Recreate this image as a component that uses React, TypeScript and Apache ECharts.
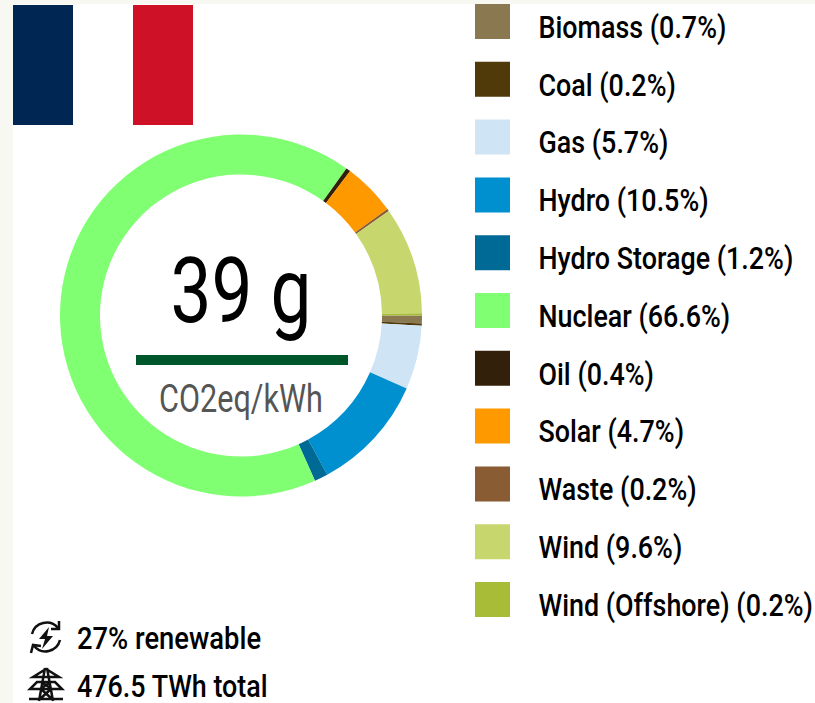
import React, { useEffect, useRef } from "react";
import * as echarts from "echarts";

const categories = ["Biomass", "Coal", "Gas", "Hydro", "Hydro Storage", "Nuclear", "Oil", "Solar", "Waste", "Wind", "Wind (Offshore)"];
const shares = [0.7, 0.2, 5.7, 10.5, 1.2, 66.6, 0.4, 4.7, 0.2, 9.6, 0.2];
const colors = ["#8a7850", "#503a0a", "#cfe4f4", "#0090d0", "#006a96", "#80ff73", "#33200a", "#ff9900", "#8a5c33", "#c8d66e", "#a8bc38"];
const intensity = "39 g";
const intensityUnit = "CO2eq/kWh";
const renewableText = "27% renewable";
const totalText = "476.5 TWh total";
const FONT = "Roboto, 'Noto Sans', sans-serif";
const NARROW = 0.84;

const ARROWS = "M32 634 A15 15 0 0 1 58 628 M60 640 A15 15 0 0 1 34 646 M59 621 L59 629 L51 629 M31 653 L33 645 L41 646";
const BOLT = "M49 627 L39 639 L45 639 L42 649 L53 636 L47 636 Z";
const PYLON = "M45 668 L39 701 M47 668 L53 701 M33 677 L46 669 L59 677 Z M30 689 L62 689 L55 682 L37 682 Z M29 699 L63 699 M41 682 L52 689 M51 682 L40 689 M41 689 L52 699 M51 689 L40 699";

echarts.graphic.registerShape("arrows", echarts.graphic.extendPath(ARROWS, {}) as any);
echarts.graphic.registerShape("bolt", echarts.graphic.extendPath(BOLT, {}) as any);
echarts.graphic.registerShape("pylon", echarts.graphic.extendPath(PYLON, {}) as any);

const scaled = (text: string, x: number, y: number, fontSize: number, fill: string, align: string, scaleX = NARROW, fontWeight = 500) => ({
  type: "text", silent: true, x, y, scaleX,
  style: { text, fontFamily: FONT, fontWeight, fontSize, fill, align, verticalAlign: "middle" },
});

export default function App() {
  const ref = useRef<HTMLDivElement>(null);
  useEffect(() => {
    document.body.style.margin = "0";
    const chart = echarts.init(ref.current!, null, { renderer: "svg" });
    chart.setOption({
      animation: false,
      backgroundColor: "#ffffff",
      legend: {
        orient: "vertical",
        left: 475,
        top: 4,
        itemWidth: 35,
        itemHeight: 35,
        itemGap: 22.8,
        icon: "rect",
        selectedMode: false,
        padding: 0,
        data: categories,
        formatter: () => " ",
        textStyle: { fontSize: 12, lineHeight: 35 },
      },
      series: [
        {
          type: "pie",
          center: [241, 315.5],
          radius: [141, 181],
          startAngle: 0,
          clockwise: true,
          silent: true,
          label: { show: false },
          labelLine: { show: false },
          emphasis: { disabled: true },
          data: categories.map((name, i) => ({ name, value: shares[i], itemStyle: { color: colors[i] } })),
        },
      ],
      graphic: [
        { type: "rect", silent: true, z: -10, shape: { x: 0, y: 0, width: 13, height: 703 }, style: { fill: "#f7f8f2" } },
        { type: "rect", silent: true, z: -10, shape: { x: 0, y: 0, width: 815, height: 4 }, style: { fill: "#f7f8f2" } },
        { type: "rect", silent: true, shape: { x: 13, y: 5, width: 60, height: 120 }, style: { fill: "#002654" } },
        { type: "rect", silent: true, shape: { x: 133, y: 5, width: 60, height: 120 }, style: { fill: "#ce1126" } },
        scaled(intensity, 241, 291, 90, "#000", "center", 0.81, 400),
        { type: "rect", silent: true, shape: { x: 136, y: 355, width: 212, height: 10 }, style: { fill: "#00562b" } },
        scaled(intensityUnit, 241, 399, 38, "#555555", "center", 0.805, 400),
        { type: "arrows", silent: true, style: { fill: "none", stroke: "#111", lineWidth: 2.5 } },
        { type: "bolt", silent: true, style: { fill: "#111" } },
        { type: "pylon", silent: true, style: { fill: "none", stroke: "#111", lineWidth: 2.5 } },
        scaled(renewableText, 77, 638, 32, "#000", "left", 0.855),
        scaled(totalText, 77, 686, 32, "#000", "left", 0.84),
        ...categories.map((name, i) =>
          scaled(`${name} (${shares[i].toFixed(1)}%)`, 538.5, 27 + 57.8 * i, 32, "#000", "left")
        ),
      ],
    });
    return () => chart.dispose();
  }, []);
  return <div ref={ref} style={{ width: 815, height: 703 }} />;
}
